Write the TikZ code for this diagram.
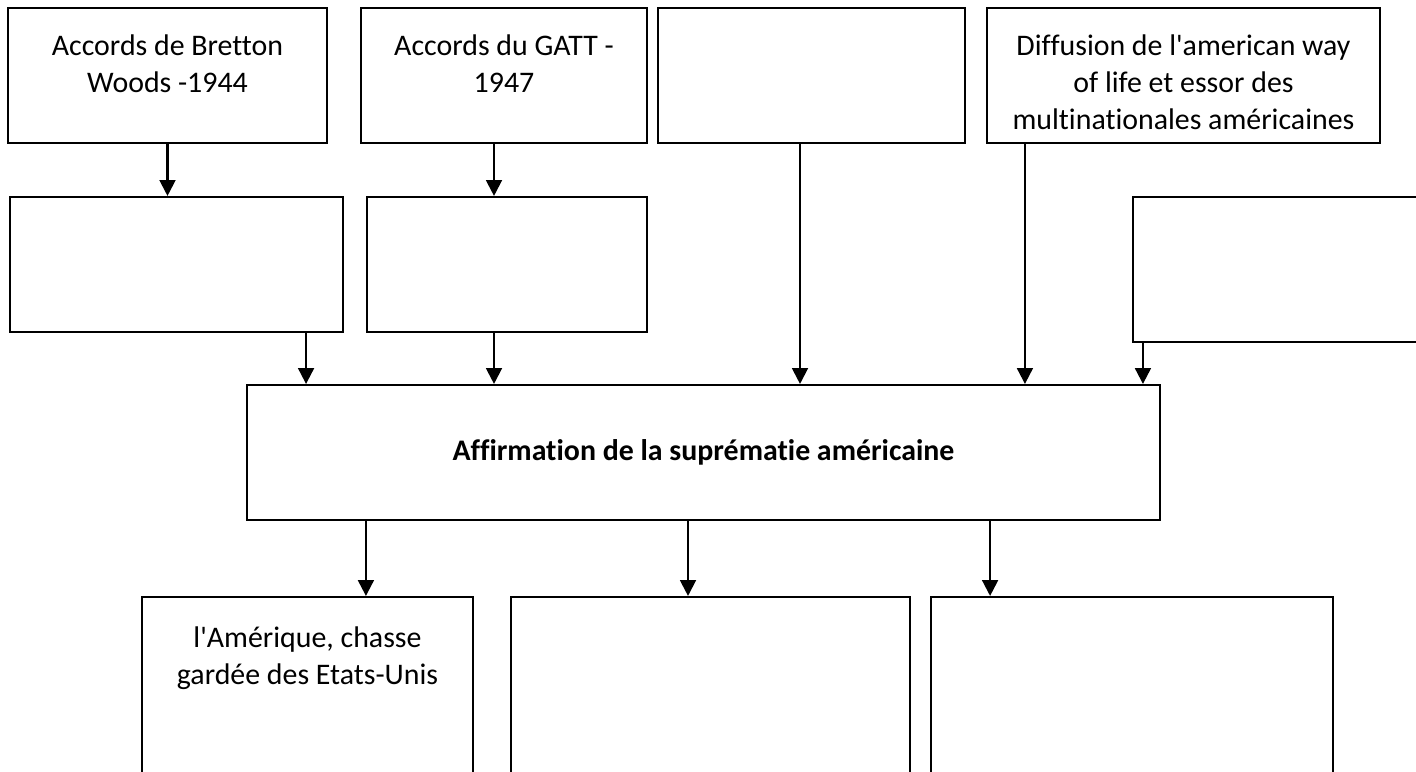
\documentclass[tikz,border=0pt]{standalone}
\usepackage{fontspec}
\setmainfont{Carlito}[Ligatures=NoCommon]
\usetikzlibrary{arrows.meta,fit}

\begin{document}
\begin{tikzpicture}[x=0.02cm,y=-0.02cm,
  box/.style={draw,line width=1.2pt,inner sep=0pt},
  txt/.style={align=center,font=\fontsize{17}{21}\selectfont},
  arr/.style={line width=1.2pt,-{Triangle[width=9pt,length=9pt]}}]

\clip[use as bounding box] (0,0) rectangle (1416,771);

% top row
\node[box,fit={(8,8) (327,143)}] (bretton) {};
\node[box,fit={(361,8) (647,143)}] (gatt) {};
\node[box,fit={(658,8) (965,143)}] (vide) {};
\node[box,fit={(987,8) (1380,143)}] (diffusion) {};

\node[txt] (brettontxt) at (167.5,63.5) {Accords de Bretton\\Woods -1944};
\node[txt] (gatttxt) at (504,63.5) {Accords du GATT -\\1947};
\node[txt] (diffusiontxt) at (1183.5,82) {Diffusion de l\textquotesingle american way\\of life et essor des\\multinationales américaines};

% second row
\node[box,fit={(10,197) (343,332)}] (bw2) {};
\node[box,fit={(367,197) (647,332)}] (gatt2) {};
\node[box,fit={(1133,197) (1460,342)}] (droite) {};

% centre
\node[box,fit={(247,385) (1160,520)}] (affirm) {};
\node[txt,font=\fontsize{17}{21}\selectfont\bfseries] (affirmtxt) at (affirm.center) {Affirmation de la suprématie américaine};

% bottom row
\node[box,fit={(142,597) (473,820)}] (amerique) {};
\node[box,fit={(511,597) (910,820)}] (bas2) {};
\node[box,fit={(931,597) (1333,820)}] (bas3) {};

\node[txt] (ameriquetxt) at (307.5,658.5) {l\textquotesingle Amérique, chasse\\gardée des Etats-Unis};

% arrows
\coordinate (g1) at ([xshift=-0.2cm]gatt.south);
\coordinate (b1) at ([xshift=-0.76cm]bw2.south east);
\coordinate (v1) at ([xshift=-0.23cm]vide.south);
\coordinate (d1) at ([xshift=0.78cm]diffusion.south west);
\coordinate (r1) at ([xshift=0.22cm]droite.south west);
\coordinate (a1) at ([xshift=2.4cm]affirm.south west);
\coordinate (a2) at ([xshift=-0.31cm]affirm.south);
\coordinate (a3) at ([xshift=-3.42cm]affirm.south east);

\draw[arr] (bretton.south) -- (bretton.south |- bw2.north);
\draw[arr] (g1) -- (g1 |- gatt2.north);
\draw[arr] (b1) -- (b1 |- affirm.north);
\draw[arr] (g1 |- gatt2.south) -- (g1 |- affirm.north);
\draw[arr] (v1) -- (v1 |- affirm.north);
\draw[arr] (d1) -- (d1 |- affirm.north);
\draw[arr] (r1) -- (r1 |- affirm.north);

\draw[arr] (a1) -- (a1 |- amerique.north);
\draw[arr] (a2) -- (a2 |- bas2.north);
\draw[arr] (a3) -- (a3 |- bas3.north);

\end{tikzpicture}
\end{document}
